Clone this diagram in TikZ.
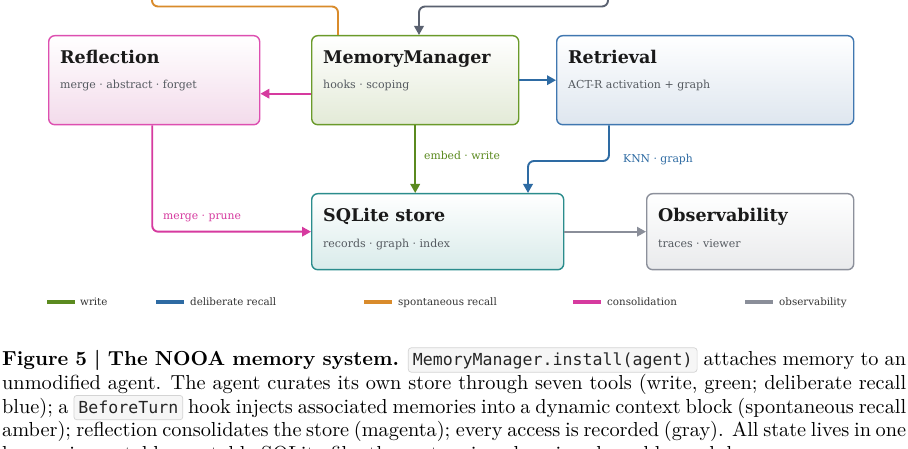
\documentclass[tikz,border=0pt]{standalone}
\usepackage{fontspec}
\usetikzlibrary{arrows.meta}
\newfontfamily\dgserif{DejaVu Serif}
\newfontfamily\cmono{DejaVu Sans Mono}
\newfontfamily\capfont{lmroman10}[Extension=.otf, UprightFont=*-regular, BoldFont=*-bold]
\definecolor{ink}{HTML}{1A1A1A}
\definecolor{subgray}{HTML}{555A60}
\definecolor{legink}{HTML}{333333}
\definecolor{cgreen}{HTML}{5B8A1F}
\definecolor{cblue}{HTML}{2E6BA3}
\definecolor{corange}{HTML}{D98B2B}
\definecolor{cmag}{HTML}{D63A9F}
\definecolor{cgray}{HTML}{8A8E99}
\definecolor{cdark}{HTML}{5A6170}
\definecolor{bpink}{HTML}{DD4FB0}
\definecolor{bgreen}{HTML}{6A9A2A}
\definecolor{bblue}{HTML}{4077B0}
\definecolor{bteal}{HTML}{2A8C8C}
\definecolor{bgray}{HTML}{8C909B}
\definecolor{fpink}{HTML}{F3DBEB}
\definecolor{fgreen}{HTML}{E3EAD7}
\definecolor{fblue}{HTML}{DEE6EF}
\definecolor{fteal}{HTML}{D9EBEA}
\definecolor{fgray}{HTML}{E9EAEC}
\definecolor{codebg}{HTML}{F6F6F6}
\definecolor{codeframe}{HTML}{D4D4D4}
\newcommand\codebox[2]{\tikz[baseline=(#1.base)]\node[inner xsep=4.5pt, inner ysep=4.7pt, text height=13pt, text depth=2pt, rounded corners=3pt, draw=codeframe, fill=codebg, line width=0.7pt, font=\cmono\fontsize{16.6}{20}\selectfont, text=black!85] (#1) {#2};}
\begin{document}
\begin{tikzpicture}[x=1pt,y=-1pt,
  box/.style={draw=#1, line width=1.4pt, rounded corners=6pt, inner sep=0pt, anchor=north west},
  ttl/.style={anchor=base west, inner sep=0pt, font=\dgserif\bfseries\fontsize{17.5}{20}\selectfont, text=ink},
  subt/.style={anchor=base west, inner sep=0pt, font=\dgserif\fontsize{11}{13}\selectfont, text=subgray},
  elab/.style={anchor=base west, inner sep=0pt, font=\dgserif\fontsize{10.8}{13}\selectfont, text=#1},
  conn/.style={draw=#1, line width=1.9pt, rounded corners=6pt},
  arr/.style={conn=#1, -{Triangle[length=9pt,width=9.5pt]}},
  legtext/.style={anchor=base west, inner sep=0pt, font=\dgserif\fontsize{10.3}{12}\selectfont, text=legink},
  legline/.style={draw=#1, line width=3.5pt},
  capline/.style={anchor=base west, inner sep=0pt, font=\capfont\fontsize{20.3}{24}\selectfont, text=black}
]
\clip (0,0) rectangle (908,449);
\fill[white] (0,0) rectangle (908,449);

% boxes
\node[box=bpink, top color=white, bottom color=fpink, minimum width=211pt, minimum height=89pt] (refl) at (48,35) {};
\node[box=bgreen, top color=white, bottom color=fgreen, minimum width=207pt, minimum height=89pt] (mm) at (311,35) {};
\node[box=bblue, top color=white, bottom color=fblue, minimum width=297pt, minimum height=89pt] (ret) at (556,35) {};
\node[box=bteal, top color=white, bottom color=fteal, minimum width=252pt, minimum height=76pt] (sql) at (311,193) {};
\node[box=bgray, top color=white, bottom color=fgray, minimum width=207pt, minimum height=76pt] (obs) at (646,193) {};

% titles and subtitles
\node[ttl] (reflT) at ([shift={(12,28.5)}]refl.north west) {Reflection};
\node[subt] (reflS) at ([shift={(12,54)}]refl.north west) {merge · abstract · forget};
\node[ttl] (mmT) at ([shift={(12,28.5)}]mm.north west) {MemoryManager};
\node[subt] (mmS) at ([shift={(12,54)}]mm.north west) {hooks · scoping};
\node[ttl] (retT) at ([shift={(12,28.5)}]ret.north west) {Retrieval};
\node[subt] (retS) at ([shift={(12,54)}]ret.north west) {ACT-R activation + graph};
\node[ttl] (sqlT) at ([shift={(12,28.5)}]sql.north west) {SQLite store};
\node[subt] (sqlS) at ([shift={(12,54.5)}]sql.north west) {records · graph · index};
\node[ttl] (obsT) at ([shift={(12,28.5)}]obs.north west) {Observability};
\node[subt] (obsS) at ([shift={(12,54.5)}]obs.north west) {traces · viewer};

% connectors
\draw[arr=cmag] ([yshift=-13.5pt]mm.west) -- ([yshift=-13.5pt]refl.east);
\draw[arr=cblue] (mm.east) -- (ret.west);
\draw[arr=cgreen] (mm.south) -- (mm.south |- sql.north);
\coordinate (k1) at (609,161);
\coordinate (k2) at (528,161);
\draw[arr=cblue] (ret.south -| k1) -- (k1) -- (k2) -- (k2 |- sql.north);
\draw[arr=cmag] ([xshift=-2pt]refl.south) |- (sql.west);
\draw[arr=cgray] (sql.east) -- (obs.west);
\coordinate (o1) at (338,6.5);
\coordinate (o2) at (152,6.5);
\coordinate (o3) at (152,-15);
\draw[conn=corange] (mm.north -| o1) -- (o1) -- (o2) -- (o3);
\coordinate (g1) at (608,-15);
\coordinate (g2) at (608,6.5);
\coordinate (g3) at (419,6.5);
\draw[arr=cdark] (g1) -- (g2) -- (g3) -- (g3 |- mm.north);

% edge labels
\node[elab=cgreen] (lw) at (424,159.5) {embed · write};
\node[elab=cblue] (lk) at (623,163) {KNN · graph};
\node[elab=cmag] (lm) at (163,219.5) {merge · prune};

% legend
\node[legtext] (l1) at (80,305.5) {write};
\node[legtext] (l2) at (190,305.5) {deliberate recall};
\node[legtext] (l3) at (398,305.5) {spontaneous recall};
\node[legtext] (l4) at (607,305.5) {consolidation};
\node[legtext] (l5) at (779,305.5) {observability};
\draw[legline=cgreen] (47,302) -- (75,302);
\draw[legline=cblue] (156,302) -- (184,302);
\draw[legline=corange] (364,302) -- (392,302);
\draw[legline=cmag] (573,302) -- (601,302);
\draw[legline=cgray] (745,302) -- (773,302);

% caption
\node[capline] (c1) at (2,365.5) {\hbox to 904pt{\textbf{Figure 5 | The NOOA memory system.} \codebox{cbA}{MemoryManager.install(agent)} attaches memory to an}};
\node[capline] (c2) at (2,389.3) {\hbox to 904pt{unmodified agent. The agent curates its own store through seven tools (write, green; deliberate recall}};
\node[capline] (c3) at (2,413.1) {\hbox to 904pt{blue); a \codebox{cbB}{BeforeTurn} hook injects associated memories into a dynamic context block (spontaneous recall}};
\node[capline] (c4) at (2,436.9) {\hbox to 904pt{amber); reflection consolidates the store (magenta); every access is recorded (gray). All state lives in one}};
\node[capline] (c5) at (2,460.7) {human-inspectable, portable SQLite file; the system is a drop-in, pluggable module.};
\end{tikzpicture}
\end{document}
